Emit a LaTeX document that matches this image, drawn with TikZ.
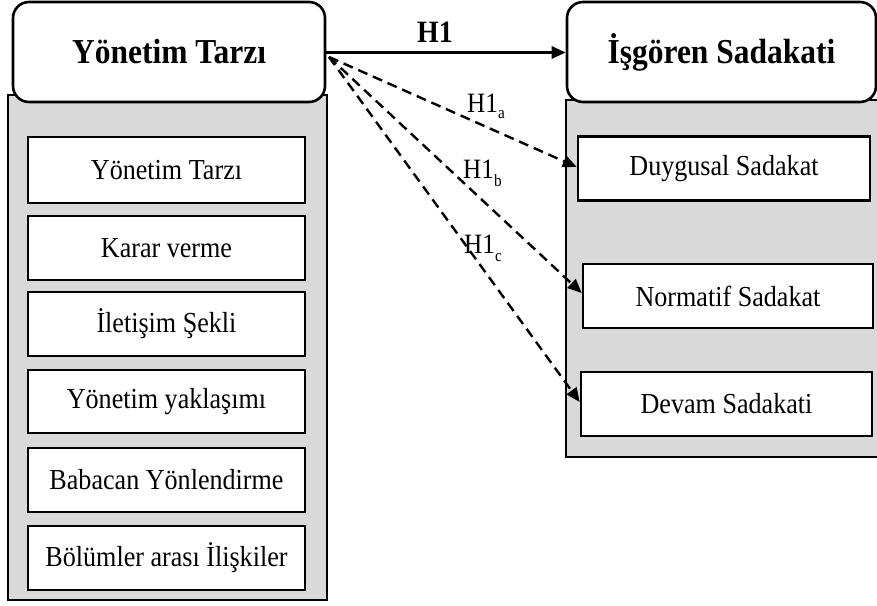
\documentclass[tikz,border=0pt]{standalone}
\usepackage{fontspec}
\setmainfont{Liberation Serif}[FakeStretch=0.9]
\usetikzlibrary{arrows.meta}
\begin{document}
\begin{tikzpicture}[x=1pt,y=-1pt,
  graybox/.style={draw=black,line width=2.6pt,fill=black!15,rectangle,inner sep=0pt},
  titlebox/.style={draw=black,line width=2.6pt,fill=white,rectangle,rounded corners=16pt,inner sep=0pt,font=\fontsize{35}{40}\selectfont\bfseries},
  itembox/.style={draw=black,line width=2.6pt,fill=white,rectangle,inner sep=0pt,font=\fontsize{29}{33}\selectfont},
  solidarrow/.style={line width=2.8pt,-{Triangle[length=14pt,width=12pt]}},
  dasharrow/.style={line width=2.4pt,dash pattern=on 10pt off 6pt,-{Triangle[length=14pt,width=12pt]}},
  hlabel/.style={inner sep=0pt,anchor=base west,font=\fontsize{28}{32}\selectfont}
]
\useasboundingbox (0,0) rectangle (877,605);
% left side
\node[graybox,minimum width=319pt,minimum height=505pt] (lgray) at (167.5,347.5) {};
\node[titlebox,minimum width=312pt,minimum height=100pt] (lt) at (169,52) {Yönetim Tarzı};
\node[itembox,minimum width=277pt,minimum height=66pt] (l1) at (166.5,170) {Yönetim Tarzı};
\node[itembox,minimum width=277pt,minimum height=64pt] (l2) at (166.5,248) {Karar verme};
\node[itembox,minimum width=277pt,minimum height=64pt] (l3) at (166.5,324) {İletişim Şekli};
\node[itembox,minimum width=277pt,minimum height=63pt] (l4) at (166.5,401.5) {Yönetim yaklaşımı};
\node[itembox,minimum width=277pt,minimum height=64pt] (l5) at (166.5,480) {Babacan Yönlendirme};
\node[itembox,minimum width=277pt,minimum height=64pt] (l6) at (166.5,558) {Bölümler arası İlişkiler};
% right side
\node[graybox,minimum width=320pt,minimum height=357pt] (rgray) at (726,278.5) {};
\node[titlebox,minimum width=309pt,minimum height=100pt] (rt) at (721.5,52) {İşgören Sadakati};
\node[itembox,minimum width=292pt,minimum height=64pt] (r1) at (724,168.5) {Duygusal Sadakat};
\node[itembox,minimum width=290pt,minimum height=64pt] (r2) at (728,296) {Normatif Sadakat};
\node[itembox,minimum width=291pt,minimum height=64pt] (r3) at (726.5,404) {Devam Sadakati};
% connectors
\coordinate (src) at (329,57);
\draw[solidarrow] (lt.east |- 0,52.5) -- (rt.west |- 0,52.5);
\node[inner sep=0pt,anchor=base,font=\fontsize{31}{34}\selectfont\bfseries] (h1) at (435,42) {H1};
\draw[dasharrow] (src) -- (r1.west |- 0,167);
\draw[dasharrow] (src) -- (r2.west |- 0,293);
\draw[dasharrow] (src) -- (r3.west |- 0,402);
\node[hlabel] (ha) at (467,112) {H1\raisebox{-6pt}{\fontsize{17}{17}\selectfont a}};
\node[hlabel] (hb) at (463,178) {H1\raisebox{-8pt}{\fontsize{17}{17}\selectfont b}};
\node[hlabel] (hc) at (464,253) {H1\raisebox{-8pt}{\fontsize{17}{17}\selectfont c}};
\end{tikzpicture}
\end{document}
